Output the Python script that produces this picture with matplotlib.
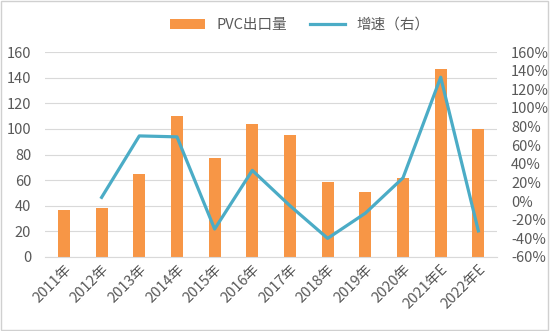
import matplotlib.pyplot as plt
from matplotlib.ticker import FuncFormatter
import numpy as np

plt.rcParams['font.family'] = ['Noto Sans CJK SC', 'DejaVu Sans']

years = ['2011年', '2012年', '2013年', '2014年', '2015年', '2016年',
         '2017年', '2018年', '2019年', '2020年', '2021年E', '2022年E']
export = [37, 38, 65, 110, 77, 104, 95, 58.5, 50.5, 62, 146.5, 100]
growth = [np.nan, 4, 70, 69, -30, 33, -5, -40, -13, 25, 133, -32]

orange = '#F79646'
teal = '#4BACC6'
grey = '#595959'

fig = plt.figure(figsize=(5.5, 3.31), dpi=100)
ax = fig.add_axes([0.082, 0.2236, 0.822, 0.619])
ax2 = ax.twinx()

x = np.arange(len(years))
b = ax.bar(x, export, width=0.32, color=orange, zorder=2, label='PVC出口量')
l, = ax2.plot(x, growth, color=teal, lw=2.3, label='增速（右）', zorder=3)

ax.set_xlim(-0.5, len(years) - 0.5)
ax.set_ylim(0, 160)
ax.set_yticks(range(0, 161, 20))
ax2.set_ylim(-60, 160)
ax2.set_yticks(range(-60, 161, 20))
ax2.yaxis.set_major_formatter(FuncFormatter(lambda v, p: f'{v:.0f}%'))

ax.grid(axis='y', color='#d9d9d9', lw=0.8, zorder=0)
ax.set_xticks(x)
ax.set_xticklabels(years, rotation=45, ha='right', rotation_mode='anchor')

for a in (ax, ax2):
    for s in a.spines.values():
        s.set_visible(False)
    a.tick_params(length=0, colors=grey, labelsize=10.5)
ax.spines['bottom'].set_visible(True)
ax.spines['bottom'].set_color('#d9d9d9')
ax.tick_params(axis='y', pad=10)
ax2.tick_params(axis='y', pad=10)

fig.legend([b, l], ['PVC出口量', '增速（右）'], loc='center', ncol=2,
           bbox_to_anchor=(0.545, 0.925), frameon=False, fontsize=10.5,
           labelcolor=grey, handlelength=2.4, columnspacing=1.5)

fig.patches.append(plt.Rectangle((0.002, 0.003), 0.995, 0.993, transform=fig.transFigure,
                                 fill=False, edgecolor='#d0d0d0', lw=1))

fig.savefig('out.png', dpi=100)
